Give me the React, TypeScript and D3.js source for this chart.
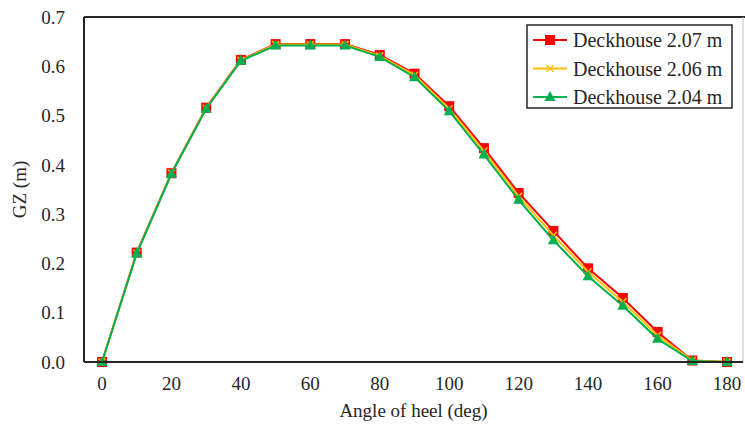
import React from 'react';
import * as d3 from 'd3';

const angles = [0, 10, 20, 30, 40, 50, 60, 70, 80, 90, 100, 110, 120, 130, 140, 150, 160, 170, 180];
const gz207 = [0, 0.222, 0.383, 0.516, 0.613, 0.645, 0.645, 0.645, 0.623, 0.585, 0.519, 0.434, 0.343, 0.266, 0.19, 0.13, 0.061, 0.003, 0];
const gz206 = [0, 0.221, 0.383, 0.515, 0.612, 0.644, 0.644, 0.644, 0.621, 0.582, 0.514, 0.428, 0.336, 0.257, 0.183, 0.122, 0.054, 0.003, 0];
const gz204 = [0, 0.22, 0.382, 0.514, 0.611, 0.642, 0.642, 0.642, 0.619, 0.578, 0.509, 0.421, 0.329, 0.247, 0.174, 0.114, 0.047, 0.002, 0];
const seriesNames = ['Deckhouse 2.07 m', 'Deckhouse 2.06 m', 'Deckhouse 2.04 m'];
const xTicks = [0, 20, 40, 60, 80, 100, 120, 140, 160, 180];
const yTicks = [0, 0.1, 0.2, 0.3, 0.4, 0.5, 0.6, 0.7];

const width = 745;
const height = 432;
const frame = { left: 84, right: 743, top: 17, bottom: 362 };
const font = '"Liberation Serif", serif';
const fontSize = 19;
const colors = ['#FF0000', '#FFC000', '#00B050'];

const x = d3.scaleLinear().domain([0, 180]).range([102, 727]);
const y = d3.scaleLinear().domain([0, 0.7]).range([frame.bottom, frame.top]);

const line = d3.line<number>()
  .x((d, i) => x(angles[i]))
  .y((d) => y(d));

function Marker({ kind, cx, cy, color }: { kind: number; cx: number; cy: number; color: string }) {
  if (kind === 0) {
    return <rect x={cx - 5} y={cy - 5} width={10} height={10} fill={color} />;
  }
  if (kind === 1) {
    return (
      <path d={`M${cx - 3.5},${cy - 3.5}L${cx + 3.5},${cy + 3.5}M${cx - 3.5},${cy + 3.5}L${cx + 3.5},${cy - 3.5}`}
        stroke={color} strokeWidth={1.5} fill="none" />
    );
  }
  return <path d={`M${cx},${cy - 6}L${cx + 5.5},${cy + 4}L${cx - 5.5},${cy + 4}Z`} fill={color} />;
}

export default function App() {
  const series = [gz207, gz206, gz204];
  return (
    <svg width={width} height={height} style={{ position: 'absolute', left: 0, top: 0, background: '#fff' }}
      fontFamily={font} fontSize={fontSize}>
      {/* plot frame */}
      <line x1={frame.left} x2={frame.right + 2} y1={frame.top} y2={frame.top} stroke="#262626" strokeWidth={2} />
      <line x1={frame.left} x2={frame.left} y1={frame.top} y2={frame.bottom} stroke="#262626" strokeWidth={2} />
      <line x1={frame.right} x2={frame.right} y1={frame.top} y2={frame.bottom} stroke="#bfbfbf" strokeWidth={1} />

      {yTicks.map((t) => (
        <text key={t} x={65} y={y(t)} dy="0.35em" textAnchor="end" fill="#262626">{t.toFixed(1)}</text>
      ))}
      {xTicks.map((t) => (
        <text key={t} x={x(t)} y={390} textAnchor="middle" fill="#262626">{t}</text>
      ))}
      <text x={(frame.left + frame.right) / 2} y={417} textAnchor="middle" fill="#262626">Angle of heel (deg)</text>
      <text transform={`translate(26, ${(frame.top + frame.bottom) / 2}) rotate(-90)`} textAnchor="middle" fill="#262626">GZ (m)</text>

      {series.map((s, k) => (
        <g key={k}>
          <path d={line(s) || ''} fill="none" stroke={colors[k]} strokeWidth={2} />
          {s.map((v, i) => (
            <Marker key={i} kind={k} cx={x(angles[i])} cy={y(v)} color={colors[k]} />
          ))}
        </g>
      ))}

      {/* bottom axis line drawn over markers */}
      <line x1={frame.left} x2={frame.right} y1={frame.bottom} y2={frame.bottom} stroke="#262626" strokeWidth={2} />

      <g fontSize={20}>
        <rect x={527} y={25} width={205} height={83} fill="#fff" stroke="#262626" strokeWidth={1.5} />
        {seriesNames.map((name, k) => {
          const ly = 40 + k * 28.5;
          return (
            <g key={name}>
              <line x1={533} x2={567} y1={ly} y2={ly} stroke={colors[k]} strokeWidth={2} />
              <Marker kind={k} cx={550} cy={ly} color={colors[k]} />
              <text x={573} y={ly} dy="0.35em" fill="#262626">{name}</text>
            </g>
          );
        })}
      </g>
    </svg>
  );
}
